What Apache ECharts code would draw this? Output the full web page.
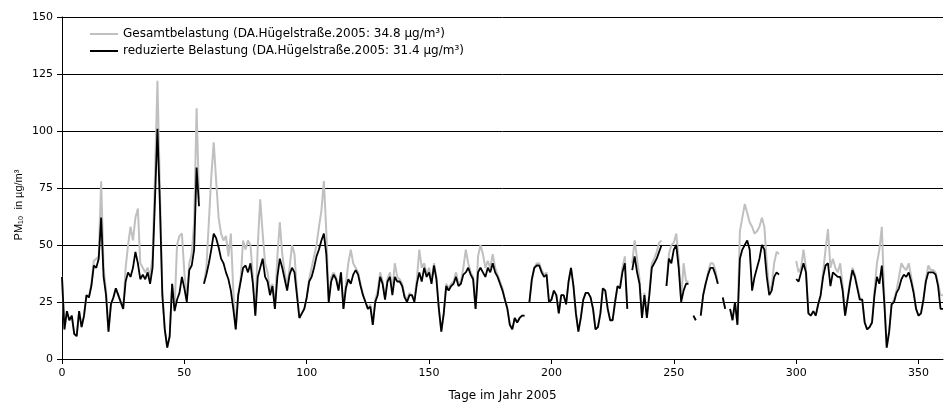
<!DOCTYPE html>
<html>
<head>
<meta charset="utf-8">
<script src="https://cdn.jsdelivr.net/npm/echarts@6/dist/echarts.min.js"></script>
<style>
  html, body { margin: 0; padding: 0; background: #fff; }
  #chart { width: 944px; height: 408px; }
</style>
</head>
<body>
<div id="chart"></div>
<script>
// Daily PM10 means for 2005, index = day of year (starting at day 0); null = no measurement
const firstDay = 0;

const gesamt = [
  36, 13, 21, 17, 19, 11, 10, 21, 14, 19,
  28, 27, 33, 43, 44, 45, 78, 40, 30, 12,
  24, 27, 31, 28, 25, 22, 40, 50, 58, 52,
  62, 66, 42, 40, 38, 40, 36, 45, 80, 122,
  75, 30, 13, 5, 10, 33, 22, 50, 54, 55,
  38, 26, 42, 46, 60, 110, 70, null, 33, 40,
  60, 80, 95, 78, 62, 55, 52, 54, 45, 55,
  30, 13, 28, 35, 52, 48, 52, 50, 36, 19,
  50, 70, 55, 42, 38, 30, 33, 22, 45, 60,
  46, 38, 32, 40, 50, 46, 30, 18, 20, 22,
  27, 35, 40, 45, 50, 58, 65, 78, 56, 25,
  36, 38, 36, 31, 38, 22, 33, 42, 48, 42,
  40, 38, 33, 28, 25, 22, 24, 15, 26, 30,
  38, 34, 27, 35, 38, 30, 42, 36, 35, 33,
  28, 26, 29, 28, 26, 35, 48, 40, 42, 37,
  40, 34, 42, 36, 22, 12, 20, 33, 31, 33,
  34, 38, 33, 34, 40, 48, 42, 38, 36, 22,
  45, 50, 46, 40, 43, 40, 46, 40, 37, 34,
  31, 26, 22, 15, 13, 18, 16, 18, 19, 19,
  null, 25, 35, 40, 42, 42, 39, 37, 38, 25,
  26, 30, 28, 20, 28, 28, 24, 34, 40, 32,
  20, 12, 18, 26, 29, 29, 27, 22, 13, 14,
  20, 31, 30, 22, 17, 17, 25, 32, 31, 40,
  45, 22, null, 42, 52, 44, 35, 18, 29, 18,
  29, 42, 44, 47, 51, 52, null, 32, 46, 50,
  51, 55, 44, 26, 42, 34, 34, null, 19, 17,
  null, 19, 28, 33, 38, 42, 42, 39, 33, null,
  27, 22, null, 22, 17, 25, 15, 56, 62, 68,
  64, 60, 58, 55, 56, 58, 62, 58, 42, 30,
  32, 42, 47, 46, null, null, null, null, null, null,
  43, 38, 40, 48, 40, 20, 19, 21, 19, 24,
  28, 38, 48, 57, 40, 44, 40, 38, 42, 32,
  19, 26, 34, 40, 37, 32, 27, 26, 16, 13,
  14, 16, 30, 42, 48, 58, 28, 5, 12, 24,
  26, 30, 36, 42, 40, 39, 42, 36, 30, 22,
  19, 20, 26, 35, 41, 39, 39, 38, 33, 28,
  28
];

const reduziert = [
  36, 13, 21, 17, 19, 11, 10, 21, 14, 19,
  28, 27, 32, 41, 40, 44, 62, 36, 28, 12,
  24, 27, 31, 28, 25, 22, 34, 38, 36, 40,
  47, 42, 35, 37, 35, 38, 33, 40, 70, 101,
  68, 28, 13, 5, 10, 33, 21, 26, 29, 36,
  31, 25, 39, 41, 48, 84, 67, null, 33, 37,
  42, 48, 55, 53, 49, 44, 42, 38, 35, 30,
  22, 13, 28, 34, 40, 41, 38, 42, 33, 19,
  36, 40, 44, 36, 34, 28, 32, 22, 36, 44,
  40, 35, 30, 37, 40, 38, 28, 18, 20, 22,
  27, 34, 36, 40, 45, 48, 52, 55, 46, 25,
  34, 37, 35, 30, 38, 22, 31, 35, 33, 37,
  39, 37, 32, 28, 25, 22, 23, 15, 25, 28,
  36, 33, 26, 34, 36, 28, 36, 34, 34, 32,
  27, 25, 28, 28, 25, 33, 38, 34, 40, 36,
  38, 33, 41, 35, 22, 12, 20, 32, 30, 32,
  33, 36, 32, 33, 37, 38, 40, 37, 35, 22,
  38, 40, 38, 36, 40, 38, 42, 38, 36, 33,
  30, 26, 22, 15, 13, 18, 16, 18, 19, 19,
  null, 25, 35, 40, 41, 41, 38, 36, 37, 25,
  26, 30, 28, 20, 28, 28, 24, 34, 40, 32,
  20, 12, 18, 26, 29, 29, 27, 22, 13, 14,
  20, 31, 30, 22, 17, 17, 25, 32, 31, 38,
  42, 22, null, 39, 45, 38, 33, 18, 28, 18,
  28, 40, 42, 44, 47, 50, null, 32, 44, 42,
  48, 50, 40, 25, 30, 33, 33, null, 19, 17,
  null, 19, 28, 33, 37, 40, 40, 37, 33, null,
  27, 22, null, 22, 17, 25, 15, 44, 48, 50,
  52, 48, 30, 36, 40, 44, 50, 48, 36, 28,
  30, 36, 38, 37, null, null, null, null, null, null,
  35, 34, 38, 42, 38, 20, 19, 21, 19, 24,
  28, 36, 41, 42, 32, 38, 37, 36, 36, 30,
  19, 26, 33, 39, 36, 31, 26, 26, 16, 13,
  14, 16, 28, 36, 33, 41, 25, 5, 12, 24,
  25, 29, 31, 35, 37, 36, 38, 34, 29, 22,
  19, 20, 26, 34, 38, 38, 38, 37, 32, 22,
  22
];

const seriesNames = [
  'Gesamtbelastung (DA.Hügelstraße.2005: 34.8 µg/m³)',
  'reduzierte Belastung (DA.Hügelstraße.2005: 31.4 µg/m³)'
];
const xRange = { min: 0, max: 360, step: 50 };
const yRange = { min: 0, max: 150, step: 25 };
const xTitle = 'Tage im Jahr 2005';
const yTitle = 'PM₁₀  in µg/m³';

const FONT = '"DejaVu Sans", "Liberation Sans", sans-serif';
const FONT_NARROW = '"Liberation Sans", Arial, sans-serif';

function toPairs(values) {
  return values.map((v, i) => [firstDay + i, v === null ? '-' : v]);
}

const chart = echarts.init(document.getElementById('chart'), null, { renderer: 'canvas' });

chart.setOption({
  animation: false,
  backgroundColor: '#ffffff',
  textStyle: { fontFamily: FONT },
  grid: { left: 62, right: 1, top: 17, bottom: 49, containLabel: false, outerBoundsMode: 'none' },
  legend: {
    orient: 'vertical',
    left: 90,
    top: 27,
    padding: 0,
    itemWidth: 28,
    itemHeight: 2,
    itemGap: 3,
    icon: 'rect',
    textStyle: { fontFamily: FONT, fontSize: 12, lineHeight: 14, color: '#000' },
    data: seriesNames
  },
  // rotated y-axis title, placed slightly below the plot's vertical centre
  graphic: [{
    type: 'text',
    x: 19,
    y: 205,
    rotation: Math.PI / 2,
    style: {
      text: yTitle,
      fontFamily: FONT_NARROW,
      fontSize: 11,
      fill: '#000',
      align: 'center',
      verticalAlign: 'middle'
    }
  }],
  xAxis: {
    type: 'value',
    min: xRange.min,
    max: xRange.max,
    interval: xRange.step,
    name: xTitle,
    nameLocation: 'middle',
    nameGap: 31,
    nameTextStyle: { fontFamily: FONT, fontSize: 12, color: '#000' },
    axisLine: { show: true, lineStyle: { color: '#000', width: 1 } },
    axisTick: { show: true, inside: false, length: 5, lineStyle: { color: '#000' } },
    axisLabel: { fontFamily: FONT, fontSize: 11, color: '#000', margin: 9, showMaxLabel: false },
    splitLine: { show: false }
  },
  yAxis: {
    type: 'value',
    min: yRange.min,
    max: yRange.max,
    interval: yRange.step,
    axisLine: { show: true, lineStyle: { color: '#000', width: 1 } },
    axisTick: { show: true, inside: false, length: 5, lineStyle: { color: '#000' } },
    axisLabel: { fontFamily: FONT, fontSize: 11, color: '#000', margin: 9 },
    splitLine: { show: true, lineStyle: { color: '#000', width: 1 } }
  },
  series: [
    {
      name: seriesNames[0],
      type: 'line',
      data: toPairs(gesamt),
      showSymbol: false,
      symbol: 'none',
      connectNulls: false,
      lineStyle: { color: '#c0c0c0', width: 2 },
      itemStyle: { color: '#c0c0c0' },
      z: 2
    },
    {
      name: seriesNames[1],
      type: 'line',
      data: toPairs(reduziert),
      showSymbol: false,
      symbol: 'none',
      connectNulls: false,
      lineStyle: { color: '#000000', width: 1.8 },
      itemStyle: { color: '#000000' },
      z: 3
    }
  ]
});
</script>
</body>
</html>
